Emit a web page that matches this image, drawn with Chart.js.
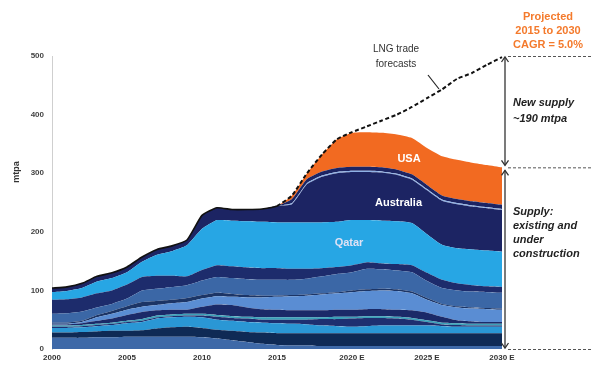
<!DOCTYPE html>
<html><head><meta charset="utf-8">
<script src="https://cdn.jsdelivr.net/npm/chart.js@4/dist/chart.umd.min.js"></script>
<style>html,body{margin:0;padding:0;background:#fff;}#wrap{width:598px;height:366px;position:relative;}</style>
</head><body><div id="wrap"><canvas id="c" width="598" height="366"></canvas></div>
<script>
const years = [2000,2001,2002,2003,2004,2005,2006,2007,2008,2009,2010,2011,2012,2013,2014,2015,2016,2017,2018,2019,2020,2021,2022,2023,2024,2025,2026,2027,2028,2029,2030];
const xTickLabels = ['2000','2005','2010','2015','2020 E','2025 E','2030 E'];
const yTicks = [0,100,200,300,400,500];

// cumulative band tops (mtpa), bottom to top
const steelBottom = [19,19,19,20,20,21,21,21,21,21,20,18,15,12,9,7,6,6,5,5,5,5,5,5,5,5,5,5,5,5,5];
const darkNavy    = [28,28,29,30,31,31,32,35,37,38,36,33,31,29,28,27,27,27,27,27,27,27,27,27,27,27,27,27,27,27,27];
const lightLow    = [36,36,37,39,41,44,46,52,54,55,54,50,48,46,45,44,43,42,40,39,38,39,40,40,40,40,39,38,38,38,38];
const navyLow     = [38,38,39,41,43,46,48,54,56,57,57,55,53,52,50,50,50,50,51,51,52,53,53,52,50,46,42,41,40,40,40];
const tealThin    = [40,40,41,43,45,48,51,57,59,60,60,58,56,55,54,54,54,54,54,55,55,56,56,55,53,49,45,44,43,43,43];
const navyMid     = [42,42,44,48,52,58,63,66,67,67,72,76,75,71,68,67,66,66,66,67,67,68,68,67,66,62,55,49,47,46,46];
const midBlue     = [43,43,46,54,60,67,72,75,78,80,86,90,89,88,88,89,90,91,93,95,97,99,100,99,95,84,75,71,69,68,67];
const thinLine    = [45,45,48,58,65,73,80,82,84,87,92,96,94,92,91,91,92,93,95,97,100,102,103,102,98,87,77,73,71,70,69];
const steelUpper  = [60,61,64,71,77,86,100,103,106,109,117,123,121,119,118,118,118,120,124,128,131,137,136,134,131,116,104,100,98,97,96];
const navyUpper   = [84,85,88,95,100,110,123,125,125,124,135,143,141,139,138,138,137,137,138,140,143,148,146,145,143,130,118,112,109,107,106];
const qatar       = [97,99,104,115,121,131,149,161,167,177,205,220,219,218,217,216,216,216,216,217,220,220,219,218,215,196,178,172,170,168,166];
const australia   = [104,106,112,124,130,140,157,170,176,186,228,241,238,238,239,244,247,281,294,300,302,302,301,297,289,271,253,247,243,240,237];
const lightStripe = [104,106,112,124,130,140,157,170,176,186,228,241,238,238,239,244,249,283,296,302,304,304,303,299,291,273,255,249,245,242,239];
const navyTop     = [104,106,112,124,130,140,157,170,176,186,228,241,238,238,239,244,256,290,303,309,311,311,310,306,298,280,262,256,252,249,246];
const usa         = [104,106,112,124,130,140,157,170,176,186,228,241,238,238,239,244,262,300,332,358,369,370,369,366,360,343,329,323,318,314,310];
const lngTrade    = [104,106,112,124,130,140,157,170,176,186,228,241,238,238,239,244,262,300,332,358,370,380,390,400,413,428,443,461,471,485,498];

const bands = [
  [steelBottom,'#3e69a8'],[darkNavy,'#0f2a55'],[lightLow,'#2a97d5'],[navyLow,'#1e2f70'],
  [tealThin,'#3aa0b8'],[navyMid,'#1b2a68'],[midBlue,'#5a8dd3'],[thinLine,'#1c3566'],
  [steelUpper,'#3b67a6'],[navyUpper,'#1d2c6c'],[qatar,'#27a6e4'],[australia,'#1c2463'],
  [lightStripe,'#8fb1e6'],[navyTop,'#1c2463'],[usa,'#f26a21']
];

const datasets = bands.map((b,i)=>({
  data:b[0], backgroundColor:b[1], borderWidth:0, pointRadius:0,
  fill: i===0 ? 'origin' : '-1', tension:0.15, order:1
}));
datasets.push({
  data:lngTrade, borderColor:'#111', borderWidth:1.8, pointRadius:0, fill:false,
  tension:0.15, order:0,
  segment:{ borderDash: ctx => ctx.p0DataIndex >= 15 ? [4,2.5] : undefined,
            borderWidth: ctx => ctx.p0DataIndex >= 15 ? 2 : 1.6 }
});

const annot = {
  id:'annot',
  afterDraw(chart){
    const ctx = chart.ctx, ca = chart.chartArea;
    const xs = chart.scales.x, ys = chart.scales.y;
    ctx.save();
    // series labels
    ctx.fillStyle = '#fff';
    ctx.textAlign = 'center'; ctx.textBaseline = 'middle';
    ctx.font = 'bold 11px "Liberation Sans", Arial, sans-serif';
    ctx.fillText('USA', xs.getPixelForValue(23.8), ys.getPixelForValue(325));
    ctx.fillText('Australia', xs.getPixelForValue(23.1), ys.getPixelForValue(250));
    ctx.fillStyle = '#dfe2f5';
    ctx.fillText('Qatar', xs.getPixelForValue(19.8), ys.getPixelForValue(181));

    // LNG trade forecasts
    ctx.fillStyle = '#333';
    ctx.font = '10px "Liberation Sans", Arial, sans-serif';
    ctx.fillText('LNG trade', 396, 49);
    ctx.fillText('forecasts', 396, 64);
    ctx.strokeStyle = '#222'; ctx.lineWidth = 1.2;
    ctx.beginPath(); ctx.moveTo(428,75); ctx.lineTo(439,89); ctx.stroke();

    // y title
    ctx.save();
    ctx.translate(17, 172); ctx.rotate(-Math.PI/2);
    ctx.fillStyle = '#333';
    ctx.font = 'bold 9px "Liberation Sans", Arial, sans-serif';
    ctx.fillText('mtpa', 0, 0);
    ctx.restore();

    // right annotations
    const xa = ca.right + 3;
    const y500 = ys.getPixelForValue(500), y310 = ys.getPixelForValue(310), y0 = ys.getPixelForValue(0);
    ctx.strokeStyle = '#555'; ctx.lineWidth = 1;
    ctx.setLineDash([3,2]);
    [y500, y310, y0].forEach(y=>{ ctx.beginPath(); ctx.moveTo(xa+3,y+0.5); ctx.lineTo(591,y+0.5); ctx.stroke(); });
    ctx.setLineDash([]);
    ctx.strokeStyle = '#333'; ctx.lineWidth = 1.3;
    const seg = (ya, yb) => {
      ctx.beginPath(); ctx.moveTo(xa, ya+1); ctx.lineTo(xa, yb-1); ctx.stroke();
      ctx.beginPath(); ctx.moveTo(xa-3.5, ya+6); ctx.lineTo(xa, ya+1); ctx.lineTo(xa+3.5, ya+6); ctx.stroke();
      ctx.beginPath(); ctx.moveTo(xa-3.5, yb-6); ctx.lineTo(xa, yb-1); ctx.lineTo(xa+3.5, yb-6); ctx.stroke();
    };
    seg(y500, y310-1);
    seg(y310+2, y0);

    ctx.fillStyle = '#f47a2c';
    ctx.font = 'bold 11px "Liberation Sans", Arial, sans-serif';
    ctx.textAlign = 'center';
    ctx.fillText('Projected', 548, 17);
    ctx.fillText('2015 to 2030', 548, 31);
    ctx.fillText('CAGR = 5.0%', 548, 45);

    ctx.fillStyle = '#222';
    ctx.textAlign = 'left';
    ctx.font = 'italic bold 11px "Liberation Sans", Arial, sans-serif';
    const tx = ca.right + 11;
    ctx.fillText('New supply', tx, 103);
    ctx.fillText('~190 mtpa', tx, 119);
    ctx.fillText('Supply:', tx, 212);
    ctx.fillText('existing and', tx, 226);
    ctx.fillText('under', tx, 240);
    ctx.fillText('construction', tx, 254);
    ctx.restore();
  }
};

new Chart(document.getElementById('c'), {
  type:'line',
  data:{ labels: years.map(String), datasets },
  options:{
    responsive:false, animation:false, devicePixelRatio:1,
    layout:{ padding:{ left:0, top:56, right:96, bottom:0 } },
    plugins:{ legend:{display:false}, tooltip:{enabled:false} },
    elements:{ line:{ borderJoinStyle:'round' } },
    scales:{
      x:{
        type:'category', offset:false,
        grid:{ display:false, drawTicks:false }, border:{ display:false },
        ticks:{ autoSkip:false, maxRotation:0, padding:4, color:'#333',
          font:{ family:'"Liberation Sans", Arial, sans-serif', size:8, weight:'bold' },
          callback:(v,i)=> i%5===0 ? xTickLabels[i/5] : '' },
        afterFit:(s)=>{ s.height = 17; }
      },
      y:{
        min:0, max:500,
        afterBuildTicks:(s)=>{ s.ticks = yTicks.map(v=>({value:v})); },
        grid:{ display:false, drawTicks:false }, border:{ display:true, color:'#cfcfcf', width:1 },
        ticks:{ padding:8, color:'#444',
          font:{ family:'"Liberation Sans", Arial, sans-serif', size:8, weight:'bold' } },
        afterFit:(s)=>{ s.width = 52; }
      }
    }
  },
  plugins:[annot]
});
</script></body></html>
